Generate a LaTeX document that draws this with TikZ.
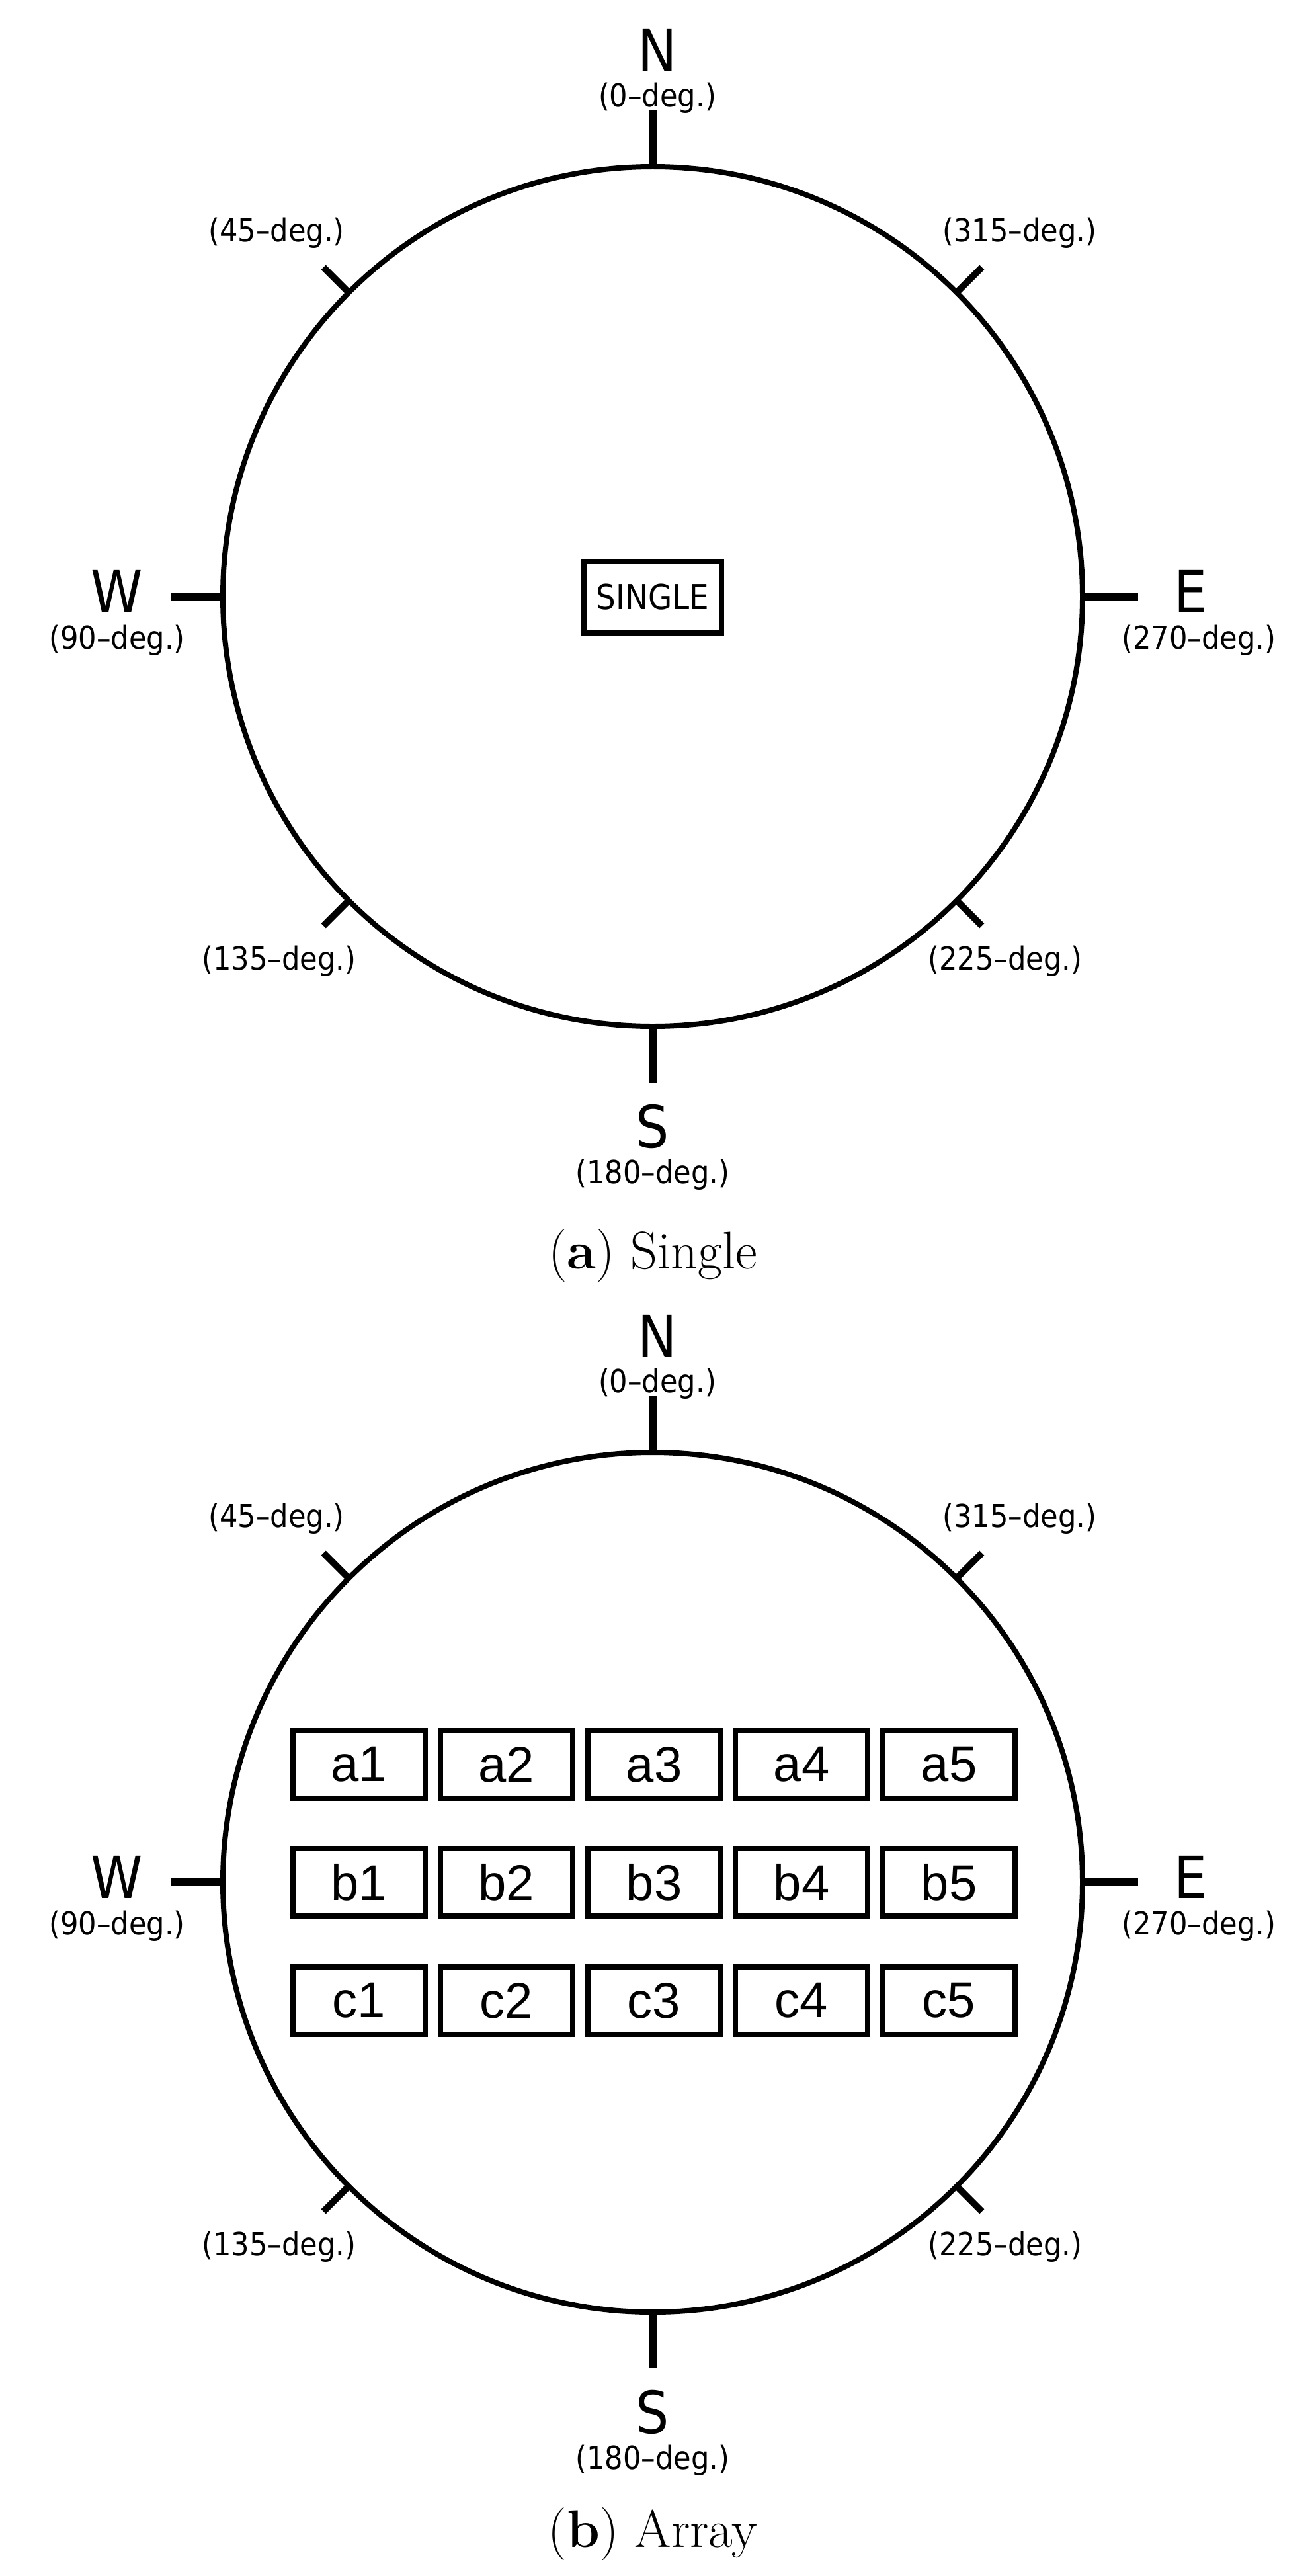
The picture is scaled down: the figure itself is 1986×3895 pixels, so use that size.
\documentclass[tikz,border=0pt]{standalone}
\usepackage{fontspec}
\setmainfont{Latin Modern Roman}
\newfontfamily\labfont{DejaVu Sans Condensed}
\usetikzlibrary{positioning,calc}

\tikzset{
  ring/.style = {line width=2pt},
  tick/.style = {line width=3pt},
  dir/.style = {font=\labfont\fontsize{22}{22}\selectfont, inner sep=0pt},
  deg/.style = {font=\labfont\fontsize{12}{12}\selectfont, inner sep=0pt},
  cell/.style = {draw, line width=2.2pt, minimum width=50pt, minimum height=25.5pt, inner sep=0pt, font=\fontspec{Liberation Sans}\fontsize{19}{19}\selectfont},
  caption/.style = {font=\fontsize{20}{20}\selectfont, inner sep=0pt}
}

% one compass rose, #1 = vertical offset, #2 = prefix
\newcommand{\rose}[2]{
  \begin{scope}[yshift=-#1*0.25pt]
  \coordinate (#2c) at (987,902);
  \draw[ring] (#2c) circle[radius=162.5pt];
  \draw[tick] (987,252) -- (987,167);
  \draw[tick] (987,1552) -- (987,1637);
  \draw[tick] (337,902) -- (259,902);
  \draw[tick] (1637,902) -- (1721,902);
  \foreach \a in {45,135,225,315}
    \draw[line width=2.5pt] ($(#2c)+(90+\a:162.5pt)$) -- ($(#2c)+(90+\a:176pt)$);
  \node[dir] (#2N) at (994,76) {N};
  \node[deg] (#2n) at (994,148) {(0\textendash deg.)};
  \node[dir] (#2W) at (177,894) {W};
  \node[deg] (#2w) at (177,968) {(90\textendash deg.)};
  \node[dir] (#2E) at (1800,894) {E};
  \node[deg] (#2e) at (1813,968) {(270\textendash deg.)};
  \node[dir] (#2S) at (987,1703) {S};
  \node[deg] (#2s) at (987,1776) {(180\textendash deg.)};
  \node[deg] (#2ne) at (418,352) {(45\textendash deg.)};
  \node[deg] (#2nw) at (1542,352) {(315\textendash deg.)};
  \node[deg] (#2sw) at (422,1453) {(135\textendash deg.)};
  \node[deg] (#2se) at (1520,1453) {(225\textendash deg.)};
  \end{scope}
}

\begin{document}
\begin{tikzpicture}[x=0.25pt, y=-0.25pt]
\useasboundingbox (0,0) rectangle (1986,3895);

\rose{0}{p}
\node[draw, line width=1.8pt, minimum width=52pt, minimum height=27pt, inner sep=0pt,
  font=\labfont\fontsize{13}{13}\selectfont] (single) at (987,903) {SINGLE};
\node[caption] (capa) at (987,1899) {(\textbf{a}) Single};

\rose{1944}{q}
\foreach \r/\y in {a/2668,b/2846,c/3025}
  \foreach \i/\x in {1/543,2/766,3/989,4/1212,5/1435}
    \node[cell] (\r\i) at (\x,\y) {\r\i};
\node[caption] (capb) at (987,3831) {(\textbf{b}) Array};
\end{tikzpicture}
\end{document}
